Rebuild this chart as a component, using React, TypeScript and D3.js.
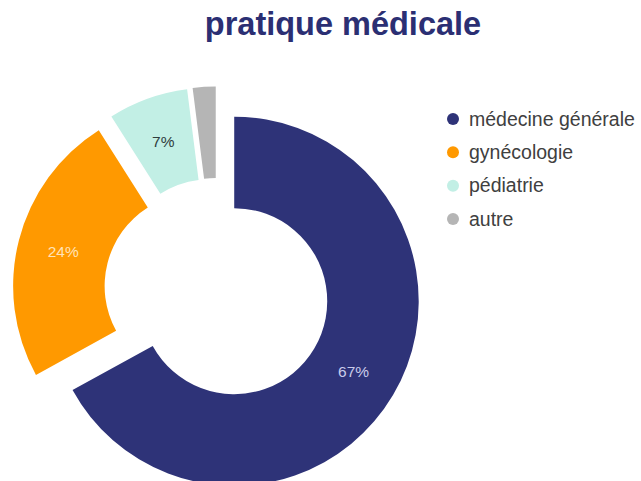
import React, { useEffect } from "react";
import * as d3 from "d3";

const categories = ["médecine générale", "gynécologie", "pédiatrie", "autre"];
const values = [67, 24, 7, 2];
const labels = ["67%", "24%", "7%", ""];
const colors = ["#2E3378", "#FF9900", "#C2EFE5", "#B5B5B5"];
const labelColors = ["#C9CCEA", "#FFE3B8", "#2F3D3D", "#333333"];
const title = "pratique médicale";

const W = 641;
const H = 481;

export default function App() {
  useEffect(() => {
    document.body.style.margin = "0";
  }, []);

  const cx = 217;
  const cy = 291;
  const rOut = 184.5;
  const rIn = 93;
  const explode = 20;

  const pie = d3.pie<number>().sort(null).value((d) => d);
  const arcs = pie(values);
  const arc = d3.arc<d3.PieArcDatum<number>>().innerRadius(rIn).outerRadius(rOut);

  const legendY = d3.scaleLinear().domain([0, 3]).range([119, 219]);

  return (
    <svg
      width={W}
      height={H}
      style={{ position: "absolute", left: 0, top: 0, background: "#fff" }}
      fontFamily="'Liberation Sans', Arial, sans-serif"
    >
      <text
        x={343}
        y={35}
        textAnchor="middle"
        fontSize={32.5}
        fontWeight="bold"
        fill="#2B2F73"
      >
        {title}
      </text>
      <g transform={`translate(${cx},${cy})`}>
        {arcs.map((a, i) => {
          const mid = (a.startAngle + a.endAngle) / 2;
          const dx = Math.sin(mid) * explode;
          const dy = -Math.cos(mid) * explode;
          const [lx, ly] = arc.centroid(a);
          return (
            <g key={i} transform={`translate(${dx},${dy})`}>
              <path d={arc(a) || ""} fill={colors[i]} />
              {labels[i] && (
                <text
                  x={lx}
                  y={ly}
                  dy="0.35em"
                  textAnchor="middle"
                  fontSize={15.5}
                  fill={labelColors[i]}
                >
                  {labels[i]}
                </text>
              )}
            </g>
          );
        })}
      </g>
      <g>
        {categories.map((c, i) => (
          <g key={c} transform={`translate(0,${legendY(i)})`}>
            <circle cx={453} cy={0} r={6} fill={colors[i]} />
            <text x={469} y={0} dy="0.35em" fontSize={19.5} fill="#404040">
              {c}
            </text>
          </g>
        ))}
      </g>
    </svg>
  );
}
